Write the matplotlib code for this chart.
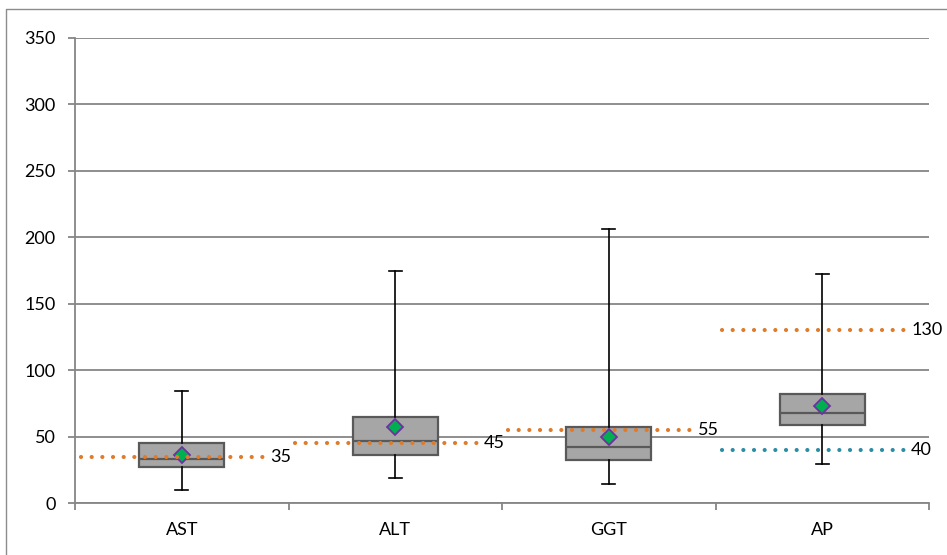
import numpy as np
import matplotlib
matplotlib.use('Agg')
import matplotlib.pyplot as plt
from matplotlib.lines import Line2D

plt.rcParams['font.family'] = ['Lato', 'DejaVu Sans']

# box plot values
tests = ['AST', 'ALT', 'GGT', 'AP']
whisker_lo = [10, 19, 14, 29]
q1 = [27, 36, 32, 59]
median = [33, 47, 42, 68]
q3 = [45, 65, 57, 82]
whisker_hi = [84, 175, 206, 172]
mean = [36, 57, 50, 73]

# reference limits (upper limit orange, lower limit teal)
limit_pos = [0, 1, 2, 3, 3]
limit_val = [35, 45, 55, 130, 40]
limit_kind = ['upper', 'upper', 'upper', 'upper', 'lower']

yticks = [0, 50, 100, 150, 200, 250, 300, 350]

grid_col = '#868686'
kind_col = {'upper': '#E07B2A', 'lower': '#2E8CA3'}

fig = plt.figure(figsize=(9.47, 5.55), dpi=100)
ax = fig.add_axes([75 / 947, 52 / 555, 854 / 947, 465 / 555])

# outer chart border (only left and top edges are inside the picture)
bx, by = 5.5 / 947, 1 - 8.5 / 555
fig.lines.append(Line2D([bx, bx, 1.0], [0.0, by, by], transform=fig.transFigure,
                        color='#8c8c8c', lw=1.0))

stats = []
for i in range(len(tests)):
    stats.append({'whislo': whisker_lo[i], 'q1': q1[i], 'med': median[i],
                  'q3': q3[i], 'whishi': whisker_hi[i], 'mean': mean[i],
                  'label': tests[i]})

pos = np.arange(len(tests))
ax.bxp(stats, positions=pos, widths=0.4, patch_artist=True, showmeans=True,
       showfliers=False,
       boxprops=dict(facecolor='#A6A6A6', edgecolor='#595959', lw=1.6),
       medianprops=dict(color='#595959', lw=1.6),
       whiskerprops=dict(color='black', lw=1.2),
       capprops=dict(color='black', lw=1.2),
       capwidths=0.06,
       meanprops=dict(marker='D', markerfacecolor='#00B050',
                      markeredgecolor='#7030A0', markersize=8.5, markeredgewidth=1.3),
       zorder=3)

for p, v, k in zip(limit_pos, limit_val, limit_kind):
    x0, x1 = p - 0.47, p + 0.39
    ax.hlines(v, x0, x1, colors=kind_col[k], lw=3.0,
              linestyles=[(0, (0.01, 2.55))], capstyle='round', zorder=5)
    ax.annotate(str(v), (x1, v), xytext=(4, 0), textcoords='offset points',
                va='center', ha='left', fontsize=13, color='black', zorder=6)

ax.set_xlim(-0.5, len(tests) - 0.5)
ax.set_ylim(0, 350)
ax.set_yticks(yticks)
ax.set_xticks(pos)
ax.set_xticklabels(tests)
ax.set_xticks(np.arange(len(tests) + 1) - 0.5, minor=True)
ax.yaxis.grid(True, color=grid_col, lw=1.3)
ax.set_axisbelow(True)

for s in ['top', 'right']:
    ax.spines[s].set_visible(False)
for s in ['left', 'bottom']:
    ax.spines[s].set_color(grid_col)
    ax.spines[s].set_linewidth(1.3)

ax.tick_params(axis='y', length=5, color=grid_col, width=1.3, pad=9, labelsize=13)
ax.tick_params(axis='x', which='major', length=0, pad=14, labelsize=13)
ax.tick_params(axis='x', which='minor', length=5, color=grid_col, width=1.3)

fig.savefig('out.png', dpi=100)
